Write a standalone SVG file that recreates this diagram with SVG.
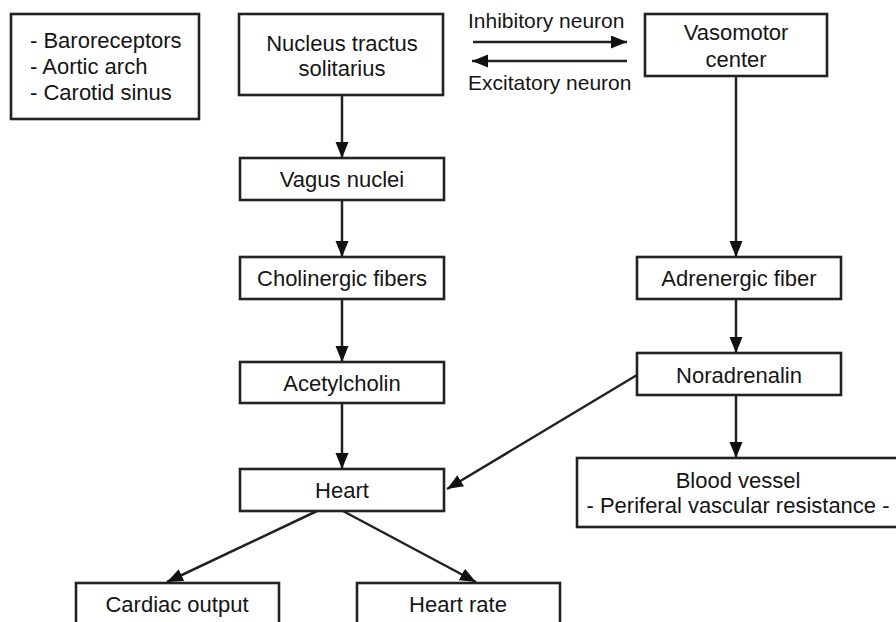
<svg xmlns="http://www.w3.org/2000/svg" width="896" height="622" viewBox="0 0 896 622">
<style>
.box{fill:#fff;stroke:#222;stroke-width:2.6}
.t{font-family:"Liberation Sans",Arial,sans-serif;font-size:22px;fill:#151515}
.s{font-size:21px}
.c{text-anchor:middle}
.ln{stroke:#222;stroke-width:2.5;fill:none;marker-end:url(#ah)}
</style>
<defs>
<marker id="ah" markerUnits="userSpaceOnUse" markerWidth="18" markerHeight="14" refX="16" refY="6.5" orient="auto">
<path d="M0,0 L16,6.5 L0,13 Z" fill="#111"/>
</marker>
</defs>
<rect width="896" height="622" fill="#fff"/>
<g id="connectors">
<line class="ln" x1="342" y1="95" x2="342" y2="158"/>
<line class="ln" x1="342" y1="200" x2="342" y2="257"/>
<line class="ln" x1="342" y1="299" x2="342" y2="362"/>
<line class="ln" x1="342" y1="403" x2="342" y2="469"/>
<line class="ln" x1="736" y1="76" x2="736" y2="257"/>
<line class="ln" x1="736" y1="299" x2="736" y2="353"/>
<line class="ln" x1="736" y1="395" x2="736" y2="458"/>
<line class="ln" x1="637" y1="375" x2="447" y2="489"/>
<line class="ln" x1="317" y1="511" x2="167" y2="582"/>
<line class="ln" x1="343" y1="511" x2="476" y2="582"/>
<line class="ln" x1="473" y1="42" x2="627" y2="42"/>
<line class="ln" x1="627" y1="61" x2="472" y2="61"/>
</g>
<g id="labels">
<text class="t s" x="468" y="28">Inhibitory neuron</text>
<text class="t s" x="468" y="90">Excitatory neuron</text>
</g>
<g id="baroreceptors">
<rect class="box" x="11" y="14" width="188" height="105"/>
<text class="t" x="30" y="48">- Baroreceptors</text>
<text class="t" x="30" y="74">- Aortic arch</text>
<text class="t" x="30" y="100">- Carotid sinus</text>
</g>
<g id="nts">
<rect class="box" x="239" y="14" width="204" height="81"/>
<text class="t c" x="342" y="51">Nucleus tractus</text>
<text class="t c" x="342" y="76">solitarius</text>
</g>
<g id="vasomotor">
<rect class="box" x="645" y="14" width="182" height="62"/>
<text class="t c" x="736" y="40">Vasomotor</text>
<text class="t c" x="736" y="67">center</text>
</g>
<g id="vagus">
<rect class="box" x="240" y="158" width="204" height="42"/>
<text class="t c" x="342" y="187">Vagus nuclei</text>
</g>
<g id="cholinergic">
<rect class="box" x="240" y="257" width="204" height="42"/>
<text class="t c" x="342" y="286">Cholinergic fibers</text>
</g>
<g id="acetylcholin">
<rect class="box" x="240" y="362" width="204" height="41"/>
<text class="t c" x="342" y="391">Acetylcholin</text>
</g>
<g id="heart">
<rect class="box" x="240" y="469" width="204" height="42"/>
<text class="t c" x="342" y="498">Heart</text>
</g>
<g id="adrenergic">
<rect class="box" x="637" y="257" width="204" height="42"/>
<text class="t c" x="739" y="286">Adrenergic fiber</text>
</g>
<g id="noradrenalin">
<rect class="box" x="637" y="353" width="204" height="42"/>
<text class="t c" x="739" y="383">Noradrenalin</text>
</g>
<g id="bloodvessel">
<rect class="box" x="577" y="458" width="330" height="69"/>
<text class="t c" x="738" y="488">Blood vessel</text>
<text class="t c" x="738" y="513" textLength="303" lengthAdjust="spacingAndGlyphs">- Periferal vascular resistance -</text>
</g>
<g id="cardiac">
<rect class="box" x="76" y="583" width="203" height="50"/>
<text class="t c" x="177" y="612">Cardiac output</text>
</g>
<g id="heartrate">
<rect class="box" x="357" y="583" width="203" height="50"/>
<text class="t c" x="458" y="612">Heart rate</text>
</g>
</svg>
